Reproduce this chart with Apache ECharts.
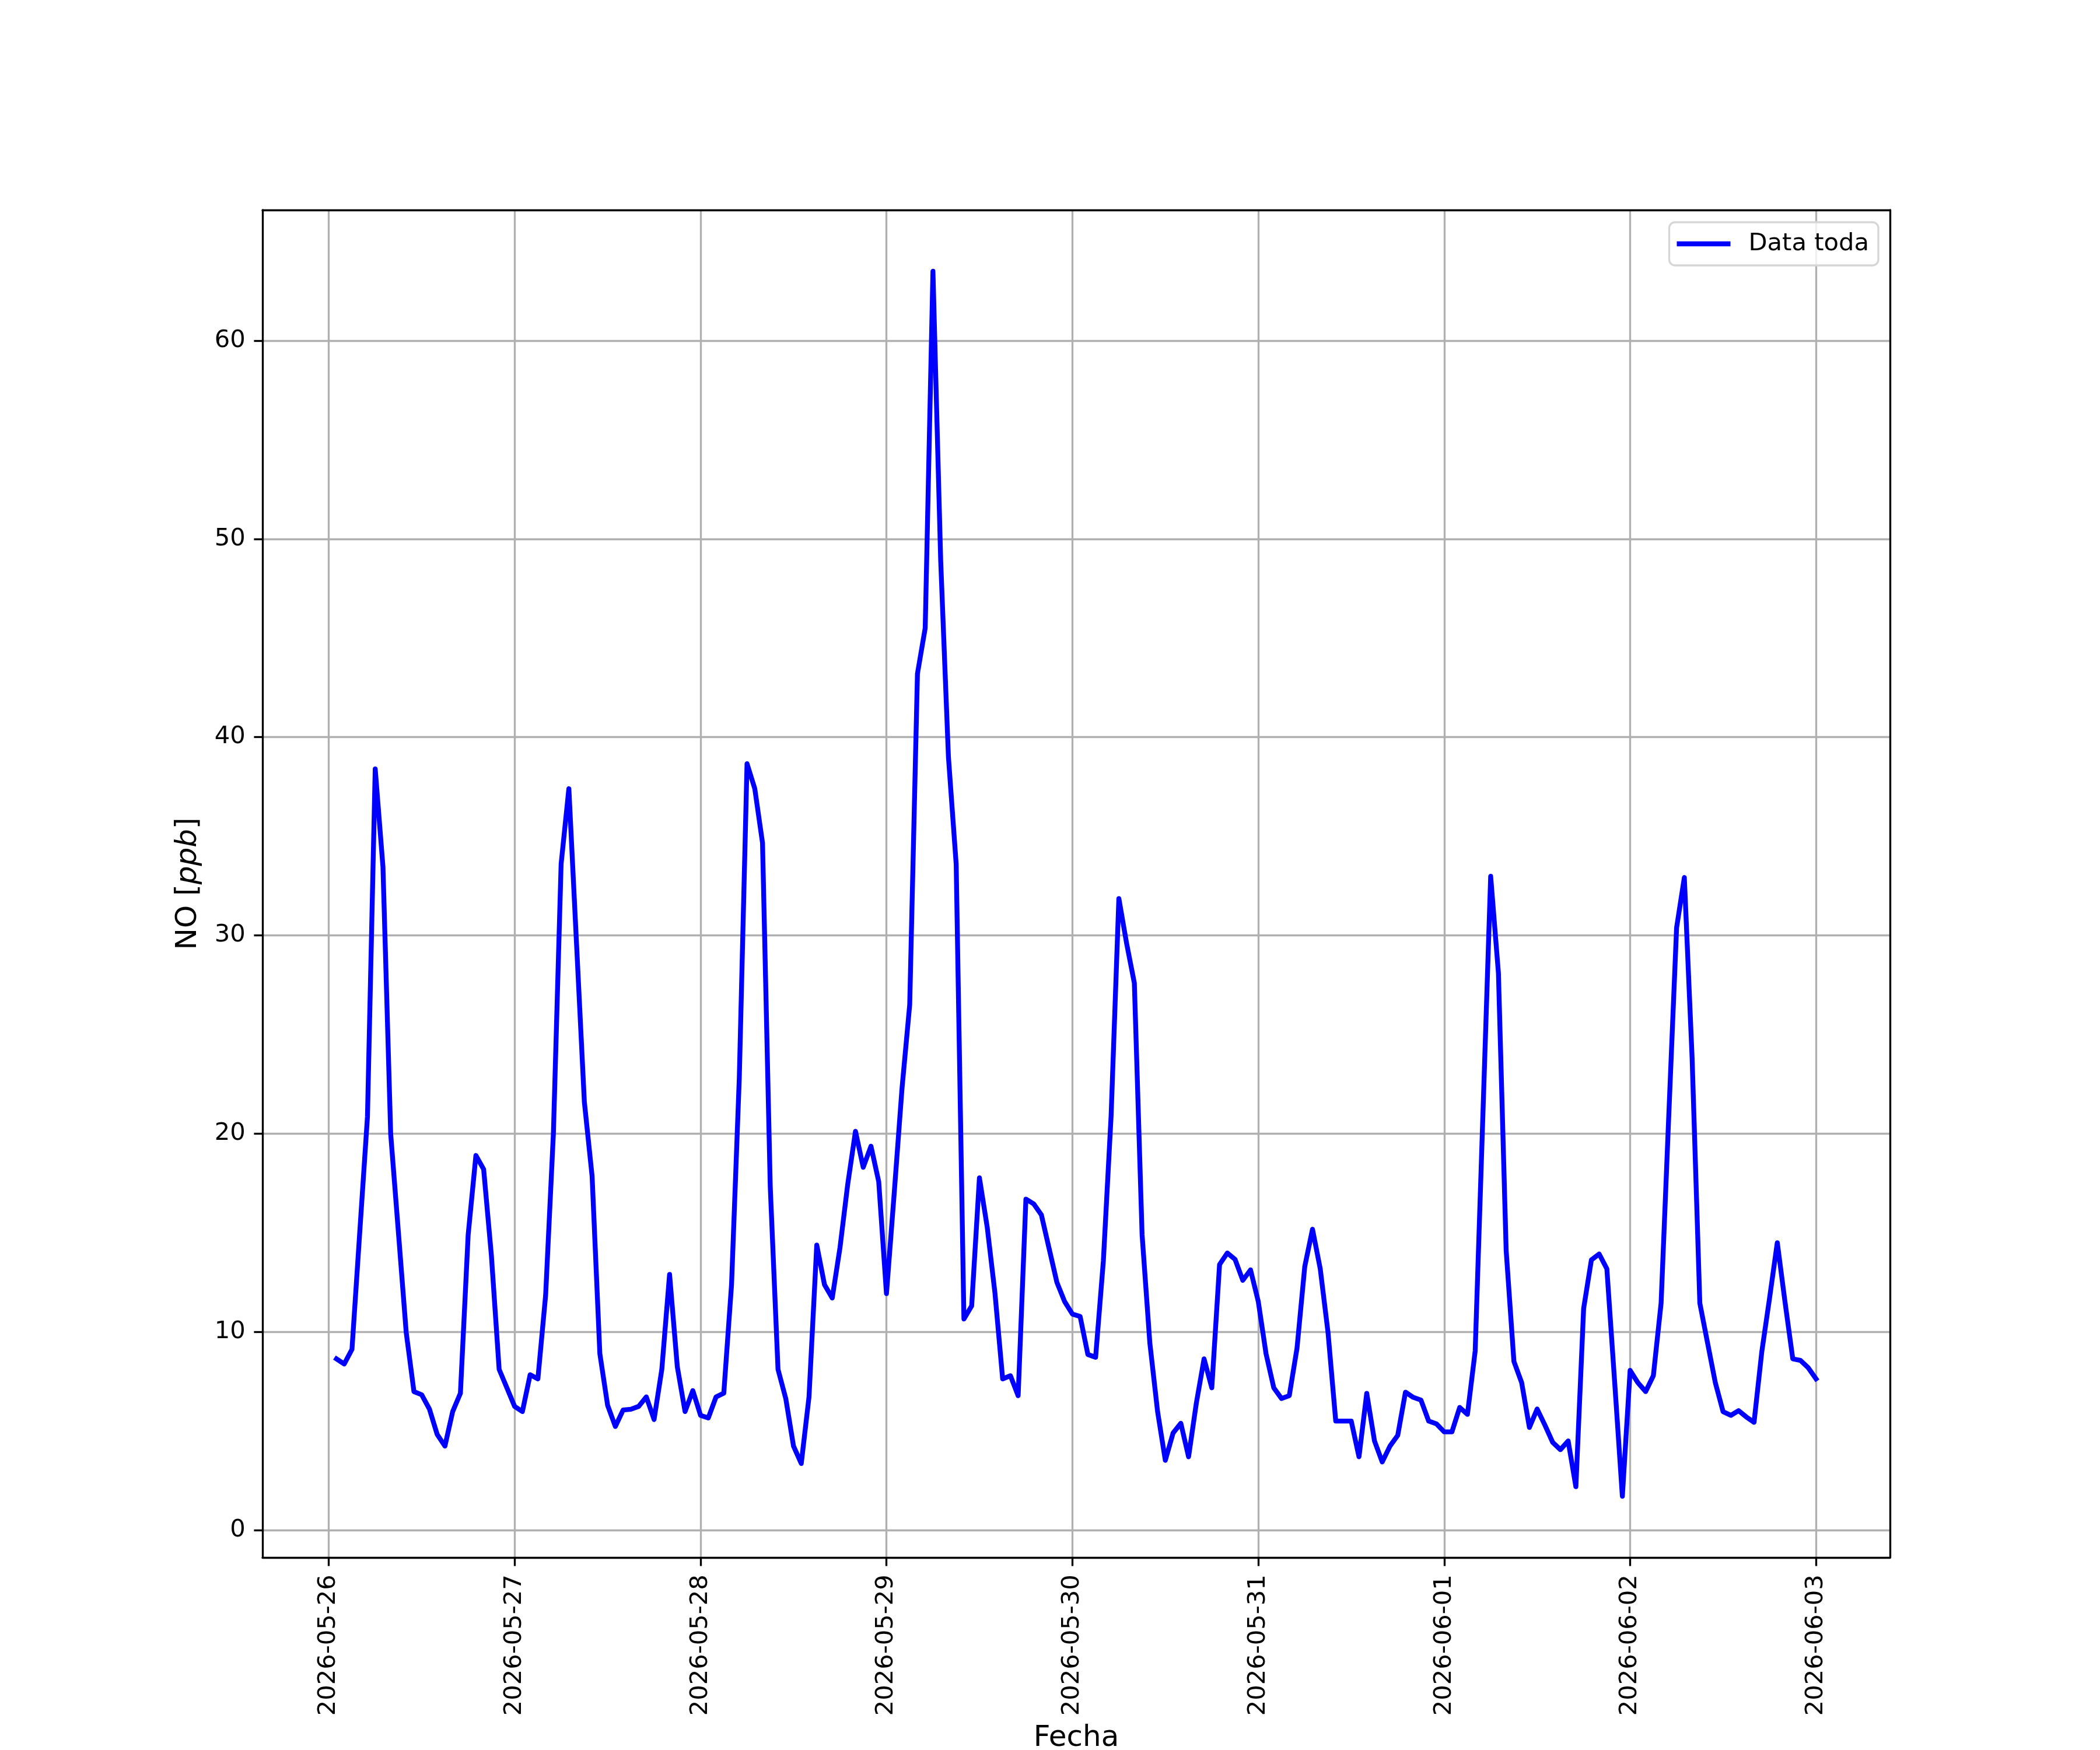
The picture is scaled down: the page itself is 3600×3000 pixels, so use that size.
<!DOCTYPE html>
<html>
<head>
<meta charset="utf-8">
<script src="https://cdn.jsdelivr.net/npm/echarts@6/dist/echarts.min.js"></script>
<style>
  html, body { margin: 0; padding: 0; background: #ffffff; }
  #chart { width: 3600px; height: 3000px; }
</style>
</head>
<body>
<div id="chart"></div>
<script>
// ---------- DATA ----------
// hourly NO values [ppb], first sample at 2026-05-26 01:00, last at 2026-06-03 00:00
const startTime = [2026, 5, 26, 1]; // year, month, day, hour of first sample
const stepHours = 1;

const values_0526 = [8.64, 8.38, 9.12, 15.0, 20.86, 38.4, 33.46, 19.98, 15.0, 9.98, 6.99, 6.83,
  6.11, 4.83, 4.24, 5.98, 6.91, 14.9, 18.9, 18.2, 13.85, 8.11, 7.18];            // 01..23 h
const values_0527 = [6.24, 5.98, 7.84, 7.63, 11.85, 19.98, 33.6, 37.4, 29.5, 21.6, 17.85, 8.9,
  6.3, 5.23, 6.06, 6.1, 6.24, 6.72, 5.58, 8.11, 12.9, 8.24, 5.98, 7.04];
const values_0528 = [5.79, 5.66, 6.72, 6.91, 12.38, 22.8, 38.66, 37.4, 34.66, 17.3, 8.11, 6.64,
  4.24, 3.36, 6.72, 14.38, 12.38, 11.71, 14.25, 17.45, 20.12, 18.3, 19.37, 17.58];
const values_0529 = [11.93, 17.0, 22.25, 26.5, 43.2, 45.5, 63.5, 48.9, 39.0, 33.6, 10.65, 11.31,
  17.77, 15.3, 11.98, 7.63, 7.79, 6.78, 16.7, 16.46, 15.9, 14.2, 12.5, 11.53];
const values_0530 = [10.9, 10.78, 8.86, 8.72, 13.58, 20.9, 31.86, 29.6, 27.6, 14.9, 9.44, 5.98,
  3.52, 4.9, 5.39, 3.7, 6.4, 8.64, 7.18, 13.4, 13.98, 13.66, 12.6, 13.13];
const values_0531 = [11.53, 8.9, 7.18, 6.64, 6.78, 9.18, 13.3, 15.18, 13.18, 9.98, 5.5, 5.5,
  5.5, 3.7, 6.9, 4.5, 3.44, 4.24, 4.78, 6.96, 6.7, 6.56, 5.5, 5.36];
const values_0601 = [4.96, 4.96, 6.19, 5.84, 9.04, 21.0, 32.98, 28.1, 14.1, 8.51, 7.44, 5.18,
  6.11, 5.3, 4.43, 4.06, 4.5, 2.19, 11.18, 13.63, 13.93, 13.18, 7.5, 1.71];
const values_0602 = [8.06, 7.44, 6.99, 7.79, 11.45, 21.0, 30.39, 32.92, 23.85, 11.45, 9.44, 7.44,
  5.98, 5.79, 6.03, 5.71, 5.44, 9.0, 11.7, 14.5, 11.5, 8.64, 8.56, 8.19];
const values_0603 = [7.63];                                                     // 00 h

const xTickLabels = ['2026-05-26', '2026-05-27', '2026-05-28', '2026-05-29', '2026-05-30',
  '2026-05-31', '2026-06-01', '2026-06-02', '2026-06-03'];
const yTickValues = [0, 10, 20, 30, 40, 50, 60];

const seriesName = 'Data toda';
const xAxisTitle = 'Fecha';
const yAxisTitle = 'NO [{i|ppb}]';

// ---------- BUILD ----------
const allValues = [].concat(values_0526, values_0527, values_0528, values_0529, values_0530,
  values_0531, values_0601, values_0602, values_0603);
const t0 = new Date(startTime[0], startTime[1] - 1, startTime[2], startTime[3]).getTime();
const HOUR = 3600 * 1000;
const seriesData = allValues.map((v, i) => [t0 + i * stepHours * HOUR, v]);

function parseDay(s) {
  const p = s.split('-').map(Number);
  return new Date(p[0], p[1] - 1, p[2]).getTime();
}
const xTickValues = xTickLabels.map(parseDay);
function pad2(n) { return (n < 10 ? '0' : '') + n; }
function fmtDay(v) {
  const d = new Date(Math.round(v));
  return d.getFullYear() + '-' + pad2(d.getMonth() + 1) + '-' + pad2(d.getDate());
}

// matplotlib-like 5% autoscale margins
const tFirst = seriesData[0][0], tLast = seriesData[seriesData.length - 1][0];
const tPad = 0.05 * (tLast - tFirst);
const vMin = Math.min.apply(null, allValues), vMax = Math.max.apply(null, allValues);
const vPad = 0.05 * (vMax - vMin);
const xMin = tFirst - tPad, xMax = tLast + tPad;
const yMin = vMin - vPad, yMax = vMax + vPad;

const FONT = 'DejaVu Sans';
const TICK_FS = 41.67;
const LABEL_FS = 50;
const SPINE_W = 3.33;
const LINE_W = 8.33;

const chart = echarts.init(document.getElementById('chart'), null, { renderer: 'canvas' });
chart.setOption({
  animation: false,
  backgroundColor: '#ffffff',
  textStyle: { fontFamily: FONT },
  grid: { left: 450, right: 360, top: 360, bottom: 330, containLabel: false, outerBoundsMode: 'none' },
  legend: {
    data: [seriesName],
    right: 380,
    top: 381,
    orient: 'vertical',
    icon: 'rect',
    itemWidth: 92,
    itemHeight: LINE_W,
    itemGap: 0,
    padding: [16, 16, 16, 13],
    borderColor: '#d6d6d6',
    borderWidth: 3.3,
    borderRadius: 10,
    backgroundColor: 'rgba(255,255,255,0.8)',
    textStyle: { fontFamily: FONT, fontSize: TICK_FS, color: '#000000', padding: [0, 0, 0, 26], lineHeight: 42 }
  },
  xAxis: [{
    type: 'value',
    min: xMin,
    max: xMax,
    scale: true,
    name: xAxisTitle,
    nameLocation: 'middle',
    nameGap: 285,
    nameTextStyle: { fontFamily: FONT, fontSize: LABEL_FS, color: '#000000', lineHeight: 50 },
    axisLine: { show: true, onZero: false, lineStyle: { color: '#000000', width: SPINE_W } },
    axisTick: { show: true, inside: false, length: 14.6, customValues: xTickValues,
      lineStyle: { color: '#000000', width: SPINE_W } },
    axisLabel: { show: true, customValues: xTickValues, rotate: 90, margin: 29.2,
      fontFamily: FONT, fontSize: TICK_FS, color: '#000000', formatter: fmtDay,
      showMinLabel: true, showMaxLabel: true, hideOverlap: false },
    splitLine: { show: true, lineStyle: { color: '#b0b0b0', width: SPINE_W } }
  }, {
    type: 'value', position: 'top', min: xMin, max: xMax, scale: true,
    axisLine: { show: true, onZero: false, lineStyle: { color: '#000000', width: SPINE_W } },
    axisTick: { show: false }, axisLabel: { show: false }, splitLine: { show: false }
  }],
  yAxis: [{
    type: 'value',
    min: yMin,
    max: yMax,
    name: yAxisTitle,
    nameLocation: 'middle',
    nameGap: 102,
    nameTextStyle: { fontFamily: FONT, fontSize: LABEL_FS, color: '#000000', lineHeight: 50,
      rich: { i: { fontFamily: FONT, fontSize: LABEL_FS, fontStyle: 'italic', color: '#000000', lineHeight: 50 } } },
    axisLine: { show: true, onZero: false, lineStyle: { color: '#000000', width: SPINE_W } },
    axisTick: { show: true, inside: false, length: 14.6, customValues: yTickValues,
      lineStyle: { color: '#000000', width: SPINE_W } },
    axisLabel: { show: true, customValues: yTickValues, margin: 29.2,
      fontFamily: FONT, fontSize: TICK_FS, color: '#000000' },
    splitLine: { show: true, lineStyle: { color: '#b0b0b0', width: SPINE_W } }
  }, {
    type: 'value', position: 'right', min: yMin, max: yMax,
    axisLine: { show: true, onZero: false, lineStyle: { color: '#000000', width: SPINE_W } },
    axisTick: { show: false }, axisLabel: { show: false }, splitLine: { show: false }
  }],
  series: [{
    name: seriesName,
    type: 'line',
    xAxisIndex: 0,
    yAxisIndex: 0,
    data: seriesData,
    showSymbol: false,
    symbol: 'none',
    itemStyle: { color: '#0000ff' },
    lineStyle: { color: '#0000ff', width: LINE_W, cap: 'square', join: 'round' },
    clip: true,
    z: 3
  }]
});
</script>
</body>
</html>
